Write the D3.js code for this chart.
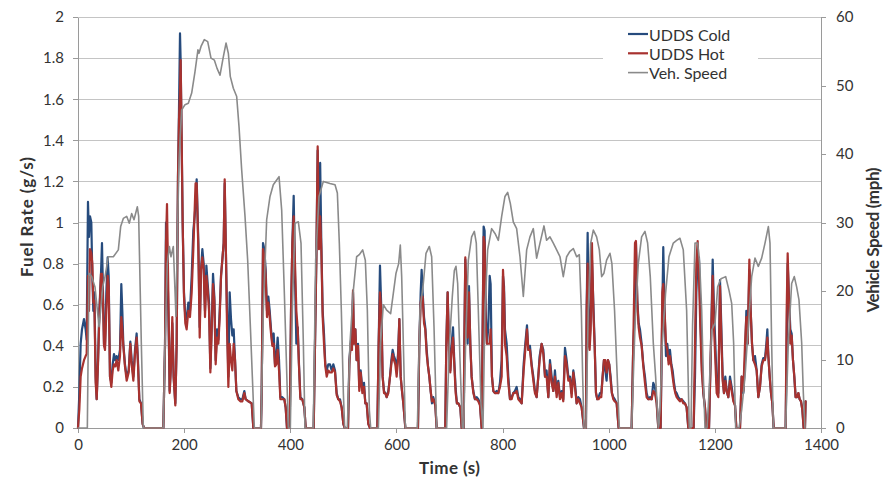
<!DOCTYPE html>
<html>
<head>
<meta charset="utf-8">
<script src="https://cdn.jsdelivr.net/npm/d3@7"></script>
<style>
  html, body { margin: 0; padding: 0; background: #fff; }
  svg { display: block; font-family: Lato, "Open Sans", sans-serif; }
</style>
</head>
<body>
<svg id="chart" width="884" height="481"></svg>
<script>
// ---- data -------------------------------------------------------------
const seriesNames = ["UDDS Cold", "UDDS Hot", "Veh. Speed"];
const timeTicks  = [0, 200, 400, 600, 800, 1000, 1200, 1400];
const fuelTicks  = [0, 0.2, 0.4, 0.6, 0.8, 1, 1.2, 1.4, 1.6, 1.8, 2];
const speedTicks = [0, 10, 20, 30, 40, 50, 60];

// vehicle speed trace (s, mph)
const speedTime = [0,17.6,20.7,25.8,32,35.2,39.6,42.7,46.5,50.9,57.2,66.6,76,80.4,85.4,91.7,96.7,101.1,105.5,111.8,114.3,119.3,123.1,160.8,164,168.3,172.1,175.2,179.6,184.6,187.1,190.3,195.3,201.6,207.9,214.2,220.4,226,228,231.8,238,244.4,250.6,257,262,267.6,273.9,278.9,283.3,287,292.7,299,303.4,308.4,314.7,319.7,324.8,328.5,332.3,344.8,349.2,355.5,361.8,368,374.4,378.8,383.8,388.8,392.6,396.3,400.1,403.9,408.9,415.2,420.2,424.6,427.7,443.4,447.8,454.1,462.3,474.8,484.3,488.7,492.4,496.2,500,502.5,507.5,512.5,518.8,525,530,536.4,541.4,545.2,549,551.5,566,570.3,575.3,581.6,589.1,594.2,599.2,604.2,607.3,609.9,613,616.8,639.4,644.4,650.7,655.7,662,666.4,670.8,675.8,694.6,699.7,705.3,709.1,712.2,715.4,719.8,724.2,726.7,730.4,735.5,741.7,746.8,750.5,754.3,759.3,763.1,766.9,771.9,779.4,785.7,792,798.3,804.5,809.6,814.6,820.2,826.5,832.8,839.1,845.4,851.6,857.9,864.2,870.5,878,883,889.3,895.6,901.9,908.2,914.4,920.7,927,933.3,939.6,944.6,948.4,950.9,953.4,957.1,961.5,966,971,977.2,982.3,986.7,991,996,1002.4,1006,1011,1016,1020,1043.2,1049.5,1055.7,1062,1068.3,1073.3,1078.3,1084,1088.4,1093.4,1096.6,1101,1107.2,1113.5,1121.7,1128,1134.2,1140.5,1146.8,1151.8,1155,1158,1162.6,1167.6,1171.4,1175.2,1178.3,1181.4,1185.2,1189,1194,1200.3,1205.3,1211.6,1220.4,1226.7,1231.7,1235.4,1239.2,1245.5,1250.5,1256.8,1263,1269.4,1275.6,1281.9,1288.2,1294.5,1300.8,1303.9,1307,1310.2,1333.4,1338.4,1344.7,1349.7,1354.1,1358.5,1363.6,1366.7,1369.8];
const speedMph = [0,0,22.6,22.1,20.6,18.2,14.8,17.2,20.6,22.1,25,25,26,29.4,30.6,30.9,29.9,31.3,30.4,32.3,30.9,12.4,0,0,12.4,24,26.5,25,26.5,16.3,27,39,46.4,47.2,47.4,48.9,52,55.2,54.7,55.7,56.7,56.4,54,53.7,52.5,51.5,54.2,56.2,54.7,51.3,49.6,48.4,44,37.7,30.9,24.5,14.8,7.5,0,0,17.2,30.4,33.8,35.5,36.2,36.7,31.8,19.7,9.9,0,0,17.2,29.9,30.1,27,12.4,0,0,24.5,33.8,36,35.7,35.5,34.3,27,17.2,5.1,0,0,12.4,20.1,25,25.3,26,24.5,17.2,2.6,0,0,12.4,18,17.2,16.7,19.7,22.6,24,26.7,22.1,12.4,0,0,17.2,21.1,25.5,26.5,25,14.8,0,0,12,19.2,23,23.6,21.1,9.9,0,0,12.4,24.5,27.9,28.7,27,17.2,3.6,0,17.2,26,29.1,28.4,27.4,30.9,33.8,34.4,32.8,30.1,29.1,25,19.2,26,27.9,29.1,24.8,27,29.5,27.4,27.9,27,26,25,22.1,25,25.8,26.2,25,25.3,17.2,7.5,0,0,17.2,27,28.9,27.9,26,22.1,22.6,24.5,25.5,24,17.2,7.5,0,0,14.8,24,27.9,28.7,27,22.1,12.4,7.5,0,2.6,12.4,19.7,25,27,27.4,27.7,26,17.2,0,0,15,27,27,24,17.2,7.5,0,0,5.1,14.3,15.3,20.6,21.8,22.1,20.1,18.2,12.4,0,0,2.6,7.5,14.8,22.1,24.8,23.6,24.8,27,29.4,27,12.4,0,0,12.4,21.1,22.1,20.6,18.7,12.4,5.1,0];

// fuel rate traces (s, g/s), cold-start and hot-start runs
const fuelTime = [0,2.5,5,7.5,11.3,14.4,16.3,18.8,20.7,22.6,25.1,27,28.9,30.8,33.3,35.2,37.7,40.2,43.3,45.2,47.1,49,50.9,53.4,55.9,57.8,60.3,62.8,65.3,67.8,70.3,72.8,76,79.1,81.6,83.5,85.4,88.5,91.7,95.5,98.6,101.1,104.3,107.4,110.5,113,115.6,118.7,121.8,124.3,160.8,164,165.8,167.7,170.2,172.7,175.2,177.7,180.2,183.4,185.9,188.4,190.3,192.2,193.4,195.3,197.2,199.7,202.2,204.7,207.9,211,214.2,217.3,219.8,221.5,223.6,226.8,229.3,231.8,234.3,236.8,239.3,241.9,244.4,246.9,249.4,251.9,254.4,256.9,259.4,262,264.5,267,269.5,272,274.5,276.4,278.9,280.8,283.3,285.8,288.3,290.8,293.3,295.9,298.4,302.1,305.9,309.7,313.4,315.9,321,327.3,330.4,344.8,346.1,348.6,351.1,353.6,356.1,358.7,361.2,363.7,366.2,368.7,371.2,373.7,376.2,378.8,381.3,385,388.8,391.3,393.8,398.9,401.4,403.9,406.4,408.9,411.4,414,416.4,419,422.7,426.5,429,444.1,446.6,449.1,451.6,454.1,456.3,458.5,461,463.5,466,468.6,471.7,474.8,478,481.1,484.3,487.4,490.5,493.7,496.8,500,502.5,508.8,511.3,513.8,516.3,518.2,520,522.6,525,527.6,530,532.6,535.8,538.9,541.4,543.9,547,550.2,564,566.5,569,571.6,574,576.6,579,581.6,584.7,587.9,590.4,592.9,595.4,597.9,600.4,603,605.5,608,610.5,613,616.8,640.6,643.1,645.7,647.5,649.4,652,654.4,657,659.5,662,664.5,667,669.5,673.3,675.8,692,694,696.5,699,701.5,704,706.6,709,711.6,714,716.6,720.4,722.9,726.7,727.9,729.8,731.7,734.2,736.7,739.2,741.7,744.9,748,751.2,754.3,757.4,760.6,764.3,766.2,768.1,770.6,773.1,775.7,777.5,780,782.6,785.7,788.8,792,795.1,798.3,800.8,802.7,804.5,807.7,810.8,814,817.1,820.2,823.4,826.5,829.7,832.8,836,839.7,842.8,846,848.5,851.6,854.8,858,861,864.2,867.3,869.8,873.6,876.8,880,883,886.2,889.3,892.5,895.6,898.7,901.9,905,908.2,911.3,914.4,917.6,920.7,923.9,927,930.1,933.3,936.4,939.6,942.7,945.8,949,953.4,957.1,958.4,960.3,962.2,964,966,968.4,971,973.5,976,978.5,981,983.5,986,988.5,991,993.6,996,998.6,1001,1003.6,1006,1008.6,1011.2,1015,1018.7,1043.2,1046.3,1049.5,1051.3,1053.9,1056.4,1058.9,1062,1065.2,1068.3,1071.4,1074.6,1077.7,1080.9,1084,1087.1,1090.3,1093.4,1097.8,1101,1102.8,1105.3,1107.9,1110.4,1112.9,1115.4,1118,1120.4,1123,1125.4,1128,1131,1134.2,1137.4,1140.5,1143.7,1146.8,1150,1160,1162.6,1165.1,1167.6,1170.1,1172.6,1175.2,1178.3,1181.4,1184,1189,1192.7,1195.9,1198.4,1200.9,1203.4,1206.6,1209.7,1212.2,1214.7,1217.2,1219.7,1222.3,1225.4,1228.5,1231.7,1234.8,1238,1240.5,1247.4,1250.5,1253.7,1256.8,1259.3,1261.8,1265,1267.5,1270,1272.5,1275.6,1278.8,1281.9,1285,1288.2,1291.3,1294.5,1297,1298.9,1300.8,1303.3,1305.8,1308.3,1310.8,1333.4,1335.3,1337.2,1339.7,1342.2,1344.7,1347.2,1349.7,1352.2,1354.8,1357.3,1359.8,1362.3,1364.8,1367.3,1369.8,1371];
const coldRate = [0,0.17,0.41,0.48,0.53,0.48,0.43,1.10,0.93,1.03,1.00,0.74,0.57,0.66,0.25,0.14,0.33,0.57,0.75,0.90,0.66,0.41,0.40,0.66,0.83,0.74,0.25,0.22,0.31,0.36,0.33,0.35,0.33,0.38,0.70,0.57,0.41,0.31,0.25,0.28,0.42,0.33,0.25,0.38,0.46,0.33,0.14,0.12,0.02,0,0,0.41,1.00,0.90,0.57,0.18,0.31,0.51,0.25,0.12,0.41,1.22,1.55,1.92,1.79,1.39,1.00,0.66,0.54,0.53,0.61,0.57,0.74,0.96,1.03,1.09,1.21,0.90,0.49,0.77,0.87,0.80,0.57,0.79,0.70,0.61,0.29,0.49,0.75,0.64,0.33,0.48,0.43,0.57,0.74,0.82,0.90,1.19,0.82,0.57,0.25,0.66,0.53,0.45,0.48,0.33,0.18,0.15,0.14,0.14,0.18,0.14,0.13,0.12,0,0,0.17,0.90,0.87,0.77,0.57,0.64,0.57,0.48,0.41,0.46,0.31,0.35,0.44,0.33,0.15,0.15,0.14,0.10,0,0,0.57,0.90,1.13,0.74,0.41,0.49,0.31,0.15,0.14,0.10,0,0,0.41,0.83,1.35,0.90,1.29,0.90,0.57,0.46,0.31,0.28,0.31,0.31,0.28,0.31,0.28,0.17,0.14,0.14,0.10,0.02,0,0,0.33,0.41,0.48,0.66,0.41,0.48,0.33,0.41,0.20,0.28,0.19,0.22,0.12,0.12,0.02,0,0,0.41,0.79,0.57,0.25,0.18,0.17,0.15,0.18,0.25,0.33,0.38,0.35,0.33,0.28,0.36,0.53,0.25,0.18,0.12,0,0,0.41,0.66,0.77,0.66,0.54,0.49,0.38,0.30,0.25,0.18,0.12,0.15,0.11,0,0,0.41,0.66,0.41,0.28,0.41,0.49,0.33,0.19,0.12,0.12,0.10,0,0,0.41,0.82,0.57,0.41,0.69,0.41,0.25,0.18,0.14,0.15,0.14,0.12,0,0.98,0.96,0.57,0.41,0.49,0.74,0.70,0.25,0.18,0.17,0.18,0.17,0.22,0.33,0.74,0.69,0.48,0.41,0.25,0.14,0.15,0.17,0.18,0.20,0.15,0.14,0.12,0.31,0.41,0.50,0.38,0.40,0.31,0.25,0.18,0.15,0.25,0.35,0.41,0.38,0.25,0.28,0.15,0.33,0.25,0.18,0.28,0.17,0.23,0.15,0.18,0.14,0.39,0.33,0.25,0.25,0.17,0.28,0.22,0.12,0.15,0.14,0.10,0,0,0.57,0.95,0.57,0.41,0.54,0.82,0.61,0.41,0.17,0.14,0.15,0.17,0.17,0.25,0.33,0.28,0.23,0.33,0.31,0.25,0.17,0.15,0.14,0.12,0,0,0.41,0.57,0.90,0.62,0.51,0.48,0.41,0.31,0.25,0.17,0.14,0.15,0.14,0.22,0.20,0.13,0,0,0.57,0.88,0.57,0.35,0.41,0.33,0.38,0.31,0.28,0.22,0.18,0.17,0.15,0.14,0.14,0.13,0.12,0.10,0,0,0.25,0.66,0.82,0.83,0.57,0.33,0.17,0.10,0,0,0.41,0.82,0.57,0.41,0.22,0.17,0.72,0.49,0.25,0.17,0.25,0.18,0.15,0.25,0.20,0.14,0.11,0,0,0.25,0.17,0.33,0.57,0.41,0.77,0.57,0.41,0.33,0.35,0.28,0.15,0.20,0.31,0.34,0.34,0.41,0.48,0.35,0.25,0.17,0.12,0,0,0.41,0.80,0.64,0.48,0.46,0.33,0.25,0.15,0.15,0.17,0.14,0.13,0.09,0,0,0.13];
const hotRate = [0,0.09,0.25,0.29,0.33,0.35,0.36,0.74,0.57,0.87,0.85,0.80,0.61,0.62,0.22,0.14,0.31,0.54,0.75,0.75,0.62,0.40,0.38,0.57,0.74,0.69,0.25,0.20,0.28,0.31,0.30,0.33,0.28,0.35,0.54,0.48,0.40,0.30,0.23,0.27,0.41,0.31,0.23,0.36,0.44,0.31,0.13,0.12,0.02,0,0,0.41,0.90,1.09,0.66,0.17,0.30,0.54,0.25,0.11,0.41,1.22,1.50,1.63,1.79,1.42,1.00,0.64,0.51,0.48,0.57,0.54,0.66,0.87,1.06,1.19,1.19,0.87,0.44,0.77,0.83,0.77,0.54,0.74,0.67,0.57,0.27,0.48,0.70,0.62,0.31,0.44,0.41,0.54,0.74,0.82,0.90,1.21,0.83,0.49,0.20,0.41,0.33,0.28,0.41,0.33,0.18,0.14,0.13,0.13,0.17,0.14,0.13,0.12,0,0,0.17,0.87,0.83,0.74,0.54,0.61,0.54,0.46,0.40,0.41,0.30,0.31,0.38,0.28,0.14,0.14,0.14,0.10,0,0,0.57,0.90,1.03,0.80,0.57,0.48,0.30,0.14,0.14,0.10,0,0,0.41,0.82,1.37,0.87,1.03,0.87,0.54,0.41,0.30,0.25,0.28,0.27,0.27,0.29,0.27,0.16,0.14,0.13,0.10,0.02,0,0,0.31,0.41,0.38,0.67,0.41,0.48,0.33,0.40,0.18,0.27,0.17,0.20,0.12,0.12,0.02,0,0,0.41,0.66,0.57,0.25,0.17,0.17,0.15,0.17,0.25,0.31,0.36,0.33,0.31,0.25,0.33,0.53,0.25,0.18,0.12,0,0,0.41,0.61,0.64,0.64,0.51,0.48,0.36,0.30,0.25,0.18,0.13,0.14,0.11,0,0,0.41,0.66,0.38,0.27,0.38,0.44,0.31,0.17,0.12,0.12,0.10,0,0,0.41,0.83,0.66,0.44,0.66,0.41,0.25,0.17,0.14,0.14,0.13,0.11,0,0.93,0.90,0.51,0.41,0.41,0.41,0.48,0.25,0.18,0.17,0.17,0.17,0.20,0.25,0.77,0.66,0.41,0.35,0.22,0.14,0.14,0.17,0.17,0.18,0.14,0.13,0.12,0.28,0.38,0.48,0.38,0.38,0.30,0.23,0.17,0.15,0.25,0.33,0.41,0.36,0.25,0.25,0.15,0.31,0.22,0.18,0.25,0.15,0.22,0.14,0.17,0.13,0.35,0.31,0.23,0.24,0.15,0.27,0.20,0.12,0.14,0.12,0.10,0,0,0.57,0.80,0.41,0.38,0.48,0.90,0.57,0.40,0.17,0.14,0.14,0.15,0.15,0.25,0.33,0.33,0.27,0.33,0.31,0.23,0.17,0.14,0.13,0.12,0,0,0.41,0.90,0.91,0.61,0.49,0.44,0.40,0.30,0.22,0.15,0.14,0.14,0.14,0.18,0.17,0.12,0,0,0.66,0.70,0.57,0.41,0.38,0.31,0.35,0.30,0.25,0.20,0.17,0.15,0.14,0.13,0.14,0.12,0.12,0.10,0,0,0.41,0.80,0.91,0.74,0.49,0.28,0.17,0.10,0,0,0.41,0.74,0.49,0.33,0.17,0.15,0.69,0.44,0.23,0.17,0.23,0.18,0.15,0.23,0.18,0.13,0.11,0,0,0.25,0.18,0.41,0.54,0.41,0.82,0.57,0.41,0.33,0.31,0.28,0.15,0.20,0.30,0.33,0.33,0.38,0.44,0.35,0.25,0.17,0.12,0,0,0.57,0.85,0.61,0.41,0.45,0.33,0.25,0.15,0.15,0.17,0.14,0.13,0.09,0,0,0.13];

// ---- layout -----------------------------------------------------------
const svg = d3.select("#chart");
const plot = { left: 78, right: 821, top: 17, bottom: 428 };

const x = d3.scaleLinear().domain([0, 1400]).range([plot.left, plot.right]);
const yFuel = d3.scaleLinear().domain([0, 2]).range([plot.bottom, plot.top]);
const ySpeed = d3.scaleLinear().domain([0, 60]).range([plot.bottom, plot.top]);

const colors = { cold: "#264b7d", hot: "#a8322f", speed: "#8a8a8a" };
const gridColor = "#c4c4c4";
const axisColor = "#9a9a9a";
const textColor = "#333";
const fontStack = "Lato, 'Open Sans', sans-serif";

// horizontal gridlines on the fuel-rate scale
svg.append("g")
  .selectAll("line")
  .data(fuelTicks)
  .join("line")
  .attr("x1", plot.left).attr("x2", plot.right)
  .attr("y1", d => yFuel(d)).attr("y2", d => yFuel(d))
  .attr("stroke", gridColor).attr("stroke-width", 1)
  .attr("shape-rendering", "crispEdges");

// axes
const fmtFuel = d => d === 0 ? "0" : d3.format("~g")(d);

function styleAxis(g) {
  g.selectAll(".domain").attr("stroke", axisColor).attr("shape-rendering", "crispEdges");
  g.selectAll(".tick line").attr("stroke", axisColor).attr("shape-rendering", "crispEdges");
  g.selectAll(".tick text").attr("fill", textColor)
    .style("font-family", fontStack).style("font-size", "15px");
}

svg.append("g")
  .attr("transform", `translate(${plot.left},0)`)
  .call(d3.axisLeft(yFuel).tickValues(fuelTicks).tickFormat(fmtFuel).tickSizeInner(5).tickSizeOuter(0).tickPadding(9))
  .call(styleAxis);

svg.append("g")
  .attr("transform", `translate(${plot.right},0)`)
  .call(d3.axisRight(ySpeed).tickValues(speedTicks).tickFormat(d3.format("d")).tickSizeInner(5).tickSizeOuter(0).tickPadding(10))
  .call(styleAxis);

svg.append("g")
  .attr("transform", `translate(0,${plot.bottom})`)
  .call(d3.axisBottom(x).tickValues(timeTicks).tickFormat(d3.format("d")).tickSizeInner(5).tickSizeOuter(0).tickPadding(6))
  .call(styleAxis);

// series lines
const fuelPts = arr => fuelTime.map((t, i) => [t, arr[i]]);
const fuelLine = d3.line().x(d => x(d[0])).y(d => yFuel(d[1]));
const speedLine = d3.line().x(d => x(d[0])).y(d => ySpeed(d[1]));

const lines = svg.append("g").attr("fill", "none")
  .attr("stroke-linejoin", "round").attr("stroke-linecap", "round");

lines.append("path")
  .attr("d", fuelLine(fuelPts(coldRate)))
  .attr("stroke", colors.cold).attr("stroke-width", 2.2);

lines.append("path")
  .attr("d", fuelLine(fuelPts(hotRate)))
  .attr("stroke", colors.hot).attr("stroke-width", 2.2);

lines.append("path")
  .attr("d", speedLine(speedTime.map((t, i) => [t, speedMph[i]])))
  .attr("stroke", colors.speed).attr("stroke-width", 1.6);

// axis titles (bold, stretched to the title widths of the layout)
function title(sel, len) {
  sel.attr("fill", textColor)
    .style("font-family", fontStack)
    .style("font-size", "17px").style("font-weight", "bold")
    .attr("text-anchor", "middle")
    .attr("dominant-baseline", "central")
    .attr("textLength", len).attr("lengthAdjust", "spacing");
}

svg.append("text")
  .attr("transform", "translate(26,217) rotate(-90)")
  .text("Fuel Rate (g/s)").call(title, 120);

svg.append("text")
  .attr("transform", "translate(872,240) rotate(-90)")
  .text("Vehicle Speed (mph)").call(title, 145);

svg.append("text")
  .attr("x", (plot.left + plot.right) / 2).attr("y", 467)
  .text("Time (s)").call(title, 61);

// legend
const legend = svg.append("g");
legend.append("rect")
  .attr("x", 603).attr("y", 22).attr("width", 155).attr("height", 64)
  .attr("fill", "#fff");

const legendItems = [
  { name: seriesNames[0], color: colors.cold, w: 2.2 },
  { name: seriesNames[1], color: colors.hot, w: 2.2 },
  { name: seriesNames[2], color: colors.speed, w: 1.6 }
];
const rows = legend.selectAll("g.item").data(legendItems).join("g")
  .attr("class", "item")
  .attr("transform", (d, i) => `translate(628,${34 + i * 19.3})`);
rows.append("line")
  .attr("x1", 0).attr("x2", 20).attr("y1", 0).attr("y2", 0)
  .attr("stroke", d => d.color).attr("stroke-width", d => d.w);
rows.append("text")
  .attr("x", 21).attr("y", 0).attr("dominant-baseline", "central")
  .attr("fill", textColor)
  .style("font-family", fontStack).style("font-size", "16px")
  .text(d => d.name);
</script>
</body>
</html>
